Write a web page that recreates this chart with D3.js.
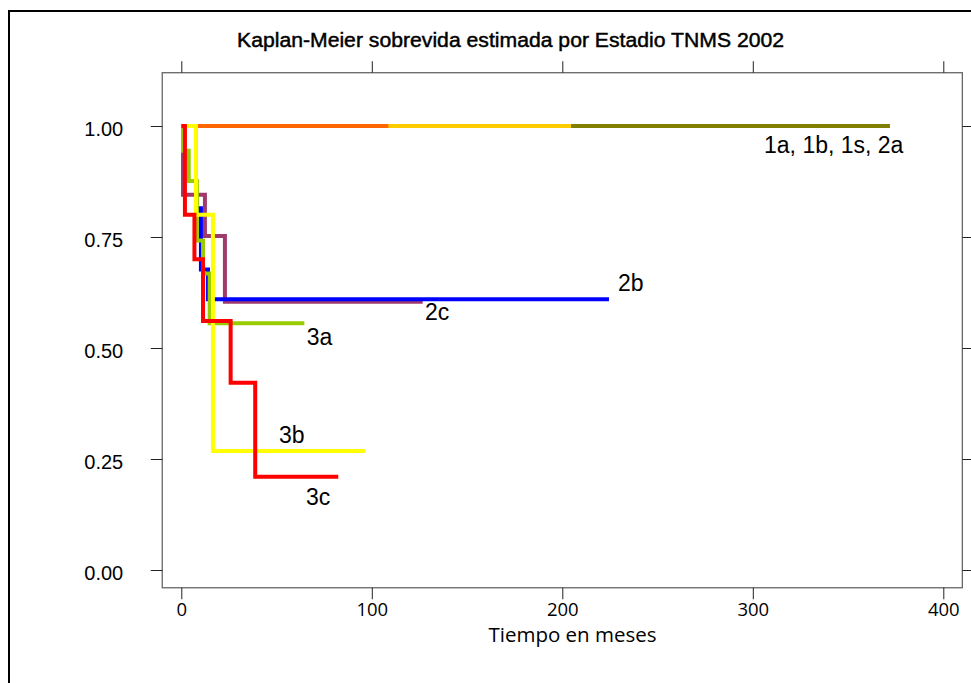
<!DOCTYPE html>
<html>
<head>
<meta charset="utf-8">
<script src="https://cdn.jsdelivr.net/npm/d3@7"></script>
<style>
  html, body { margin: 0; padding: 0; background: #fff; }
  svg { display: block; }
</style>
</head>
<body>
<svg id="chart" width="971" height="683"></svg>
<script>
// Kaplan-Meier survival estimates by TNM stage (2002)
const stages = ["2a", "1s", "1b", "2c", "2b", "3a", "3b", "3c"];

// event times (months) and survival after each step; last entry marks end of follow-up
const times2a = [0, 372];
const surv2a  = [1, 1];
const times1s = [0, 204.6];
const surv1s  = [1, 1];
const times1b = [0, 108.7];
const surv1b  = [1, 1];
const times2c = [0, 0.9, 12.4, 22.9, 126.7];
const surv2c  = [1, 0.845, 0.752, 0.604, 0.604];
const times2b = [0, 7.7, 10.3, 14.0, 224.5];
const surv2b  = [1, 0.815, 0.677, 0.61, 0.61];
const times3a = [0, 0.9, 3.9, 8.2, 11.4, 14.9, 64.6];
const surv3a  = [1, 0.944, 0.876, 0.742, 0.668, 0.556, 0.556];
const times3b = [0, 7.7, 16.6, 96.4];
const surv3b  = [1, 0.80, 0.268, 0.268];
const times3c = [0, 1.9, 6.9, 11.4, 25.9, 38.8, 82.4];
const surv3c  = [1, 0.80, 0.70, 0.561, 0.422, 0.21, 0.21];

const xTicks = [0, 100, 200, 300, 400];
const yTicks = [0, 0.25, 0.5, 0.75, 1];

// curve labels: text with anchor (months, survival)
const labelText = ["1a, 1b, 1s, 2a", "2b", "2c", "3a", "3b", "3c"];
const labelX    = [305.9, 229.2, 127.9, 65.8, 51.3, 65.5];
const labelY    = [0.939, 0.628, 0.563, 0.507, 0.286, 0.146];

const seriesTimes = {"2a": times2a, "1s": times1s, "1b": times1b, "2c": times2c,
                     "2b": times2b, "3a": times3a, "3b": times3b, "3c": times3c};
const seriesSurv  = {"2a": surv2a, "1s": surv1s, "1b": surv1b, "2c": surv2c,
                     "2b": surv2b, "3a": surv3a, "3b": surv3b, "3c": surv3c};
const colors = {"2a": "#808000", "1s": "#FFCC00", "1b": "#FF6600", "2c": "#9E3B6C",
                "2b": "#0000FF", "3a": "#99CC00", "3b": "#FFFF00", "3c": "#FF0000"};

const svg = d3.select("#chart");

// outer frame (top and left edges)
svg.append("path")
  .attr("d", "M9,683 V11 H971")
  .attr("fill", "none").attr("stroke", "#000").attr("stroke-width", 2);

const x = d3.scaleLinear().domain([0, 400]).range([181.3, 943.3]);
const y = d3.scaleLinear().domain([0, 1]).range([570, 126]);
const xBox = [-10, 410], yBox = [-0.04, 1.12];
const boxLeft = x(xBox[0]), boxRight = x(xBox[1]), boxTop = y(yBox[1]), boxBottom = y(yBox[0]);

// plot box
svg.append("rect")
  .attr("x", boxLeft).attr("y", boxTop)
  .attr("width", boxRight - boxLeft).attr("height", boxBottom - boxTop)
  .attr("fill", "none").attr("stroke", "#666").attr("stroke-width", 1.3);

const tickLen = 11.5;
function styleAxis(g, fontFamily, fontSize) {
  g.select(".domain").remove();
  g.selectAll(".tick line").attr("stroke", "#222").attr("stroke-width", 1);
  g.selectAll(".tick text").attr("fill", "#000")
    .style("font-family", fontFamily).style("font-size", fontSize + "px");
}

svg.append("g").attr("transform", `translate(0,${boxBottom})`)
  .call(d3.axisBottom(x).tickValues(xTicks).tickSize(tickLen).tickPadding(4).tickFormat(d3.format("d")))
  .call(g => styleAxis(g, "'Open Sans', sans-serif", 18.5));

svg.append("g").attr("transform", `translate(0,${boxTop})`)
  .call(d3.axisTop(x).tickValues(xTicks).tickSize(tickLen).tickFormat(""))
  .call(g => styleAxis(g, "sans-serif", 10));

svg.append("g").attr("transform", `translate(${boxLeft},0)`)
  .call(d3.axisLeft(y).tickValues(yTicks).tickSize(tickLen).tickPadding(27.5).tickFormat(d3.format(".2f")))
  .call(g => styleAxis(g, "'Liberation Sans', Arial, sans-serif", 20))
  .call(g => g.selectAll(".tick text").attr("dy", "0.45em"));

svg.append("g").attr("transform", `translate(${boxRight},0)`)
  .call(d3.axisRight(y).tickValues(yTicks).tickSize(tickLen).tickFormat(""))
  .call(g => styleAxis(g, "sans-serif", 10));

// title and axis label
svg.append("text")
  .attr("x", 237).attr("y", 46.5)
  .attr("textLength", 547).attr("lengthAdjust", "spacingAndGlyphs")
  .attr("stroke", "#000").attr("stroke-width", 0.45)
  .style("font-family", "'Liberation Sans', Arial, sans-serif")
  .style("font-size", "20px")
  .text("Kaplan-Meier sobrevida estimada por Estadio TNMS 2002");

svg.append("text")
  .attr("x", 572.5).attr("y", 642).attr("text-anchor", "middle")
  .style("font-family", "'Open Sans', sans-serif").style("font-size", "20.5px")
  .text("Tiempo en meses");

// survival step curves
const step = d3.line().curve(d3.curveStepAfter)
  .x(d => x(d[0])).y(d => y(d[1]));

svg.append("g").selectAll("path")
  .data(stages)
  .join("path")
  .attr("d", s => step(seriesTimes[s].map((t, i) => [t, seriesSurv[s][i]])))
  .attr("fill", "none")
  .attr("stroke", s => colors[s])
  .attr("stroke-width", 4)
  .attr("stroke-linejoin", "miter")
  .attr("stroke-linecap", "butt");

// curve labels
svg.append("g").selectAll("text")
  .data(labelText)
  .join("text")
  .attr("x", (d, i) => x(labelX[i]))
  .attr("y", (d, i) => y(labelY[i]))
  .style("font-family", "'Liberation Sans', Arial, sans-serif")
  .style("font-size", "23px")
  .text(d => d);
</script>
</body>
</html>
